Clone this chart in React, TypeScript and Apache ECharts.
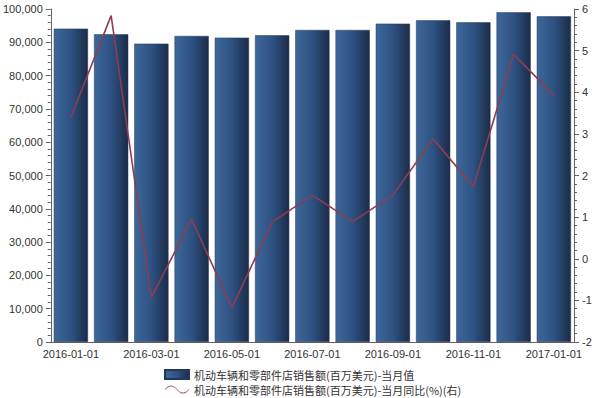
import React, { useEffect, useRef } from "react";
import * as echarts from "echarts";

const categories = [
  "2016-01-01", "2016-02-01", "2016-03-01", "2016-04-01", "2016-05-01", "2016-06-01",
  "2016-07-01", "2016-08-01", "2016-09-01", "2016-10-01", "2016-11-01", "2016-12-01", "2017-01-01",
];
const salesValues = [94100, 92400, 89600, 91900, 91400, 92100, 93700, 93700, 95600, 96600, 96000, 99000, 97800];
const yoyValues = [3.40, 5.84, -0.93, 0.95, -1.18, 0.88, 1.53, 0.89, 1.53, 2.88, 1.73, 4.91, 3.93];
const barName = "机动车辆和零部件店销售额(百万美元)-当月值";
const lineName = "机动车辆和零部件店销售额(百万美元)-当月同比(%)(右)";

export default function App() {
  const ref = useRef<HTMLDivElement>(null);
  useEffect(() => {
    if (!ref.current) return;
    const chart = echarts.init(ref.current, undefined, { renderer: "svg" });
    const axisColor = "#6b6060";
    chart.setOption({
      animation: false,
      backgroundColor: "#ffffff",
      textStyle: { fontFamily: "Liberation Sans, Arial, sans-serif" },
      grid: { left: 49, right: 26, top: 9, bottom: 56, containLabel: false },
      legend: {
        orient: "vertical",
        left: 164,
        top: 368,
        height: 40,
        padding: 0,
        itemWidth: 24,
        itemHeight: 9,
        itemGap: 2,
        textStyle: { fontSize: 11, color: "#333", fontFamily: "Noto Sans CJK SC, sans-serif", lineHeight: 13 },
        data: [
          { name: barName, icon: "rect" },
          {
            name: lineName,
            icon: "path://M0,6 C5,0 10,0 15,6 S25,12 30,6 L30,7.2 C25,13.2 20,13.2 15,7.2 S5,1.2 0,7.2 Z",
            itemStyle: { color: "#a06070" },
          },
        ],
      },
      xAxis: {
        type: "category",
        data: categories,
        axisLine: { lineStyle: { color: axisColor } },
        axisTick: { alignWithLabel: true, interval: 0, lineStyle: { color: axisColor } },
        axisLabel: { interval: 1, fontSize: 11, color: "#333", margin: 6 },
      },
      yAxis: [
        {
          type: "value",
          min: 0,
          max: 100000,
          interval: 10000,
          axisLine: { show: true, lineStyle: { color: axisColor } },
          axisTick: { show: true, lineStyle: { color: axisColor } },
          minorTick: { show: true, splitNumber: 5, length: 3, lineStyle: { color: axisColor } },
          splitLine: { show: false },
          axisLabel: {
            fontSize: 11,
            color: "#333",
            formatter: (v: number) => v.toLocaleString("en-US"),
          },
        },
        {
          type: "value",
          min: -2,
          max: 6,
          interval: 1,
          position: "right",
          axisLine: { show: true, lineStyle: { color: axisColor } },
          axisTick: { show: true, lineStyle: { color: axisColor } },
          minorTick: { show: true, splitNumber: 5, length: 3, lineStyle: { color: axisColor } },
          splitLine: { show: false },
          axisLabel: { fontSize: 11, color: "#333" },
        },
      ],
      series: [
        {
          name: barName,
          type: "bar",
          data: salesValues,
          barCategoryGap: "15%",
          itemStyle: {
            color: new echarts.graphic.LinearGradient(0, 0, 1, 0, [
              { offset: 0, color: "#3d6799" },
              { offset: 0.5, color: "#2e5283" },
              { offset: 1, color: "#1c2c48" },
            ]),
            borderColor: "#24375a",
            borderWidth: 0.5,
          },
        },
        {
          name: lineName,
          type: "line",
          yAxisIndex: 1,
          data: yoyValues,
          symbol: "none",
          lineStyle: { color: "#8a3f50", width: 1.6 },
          itemStyle: { color: "#8a3f50" },
        },
      ],
    });
    return () => chart.dispose();
  }, []);
  return <div ref={ref} style={{ width: 600, height: 398, position: "absolute", left: 0, top: 0 }} />;
}
